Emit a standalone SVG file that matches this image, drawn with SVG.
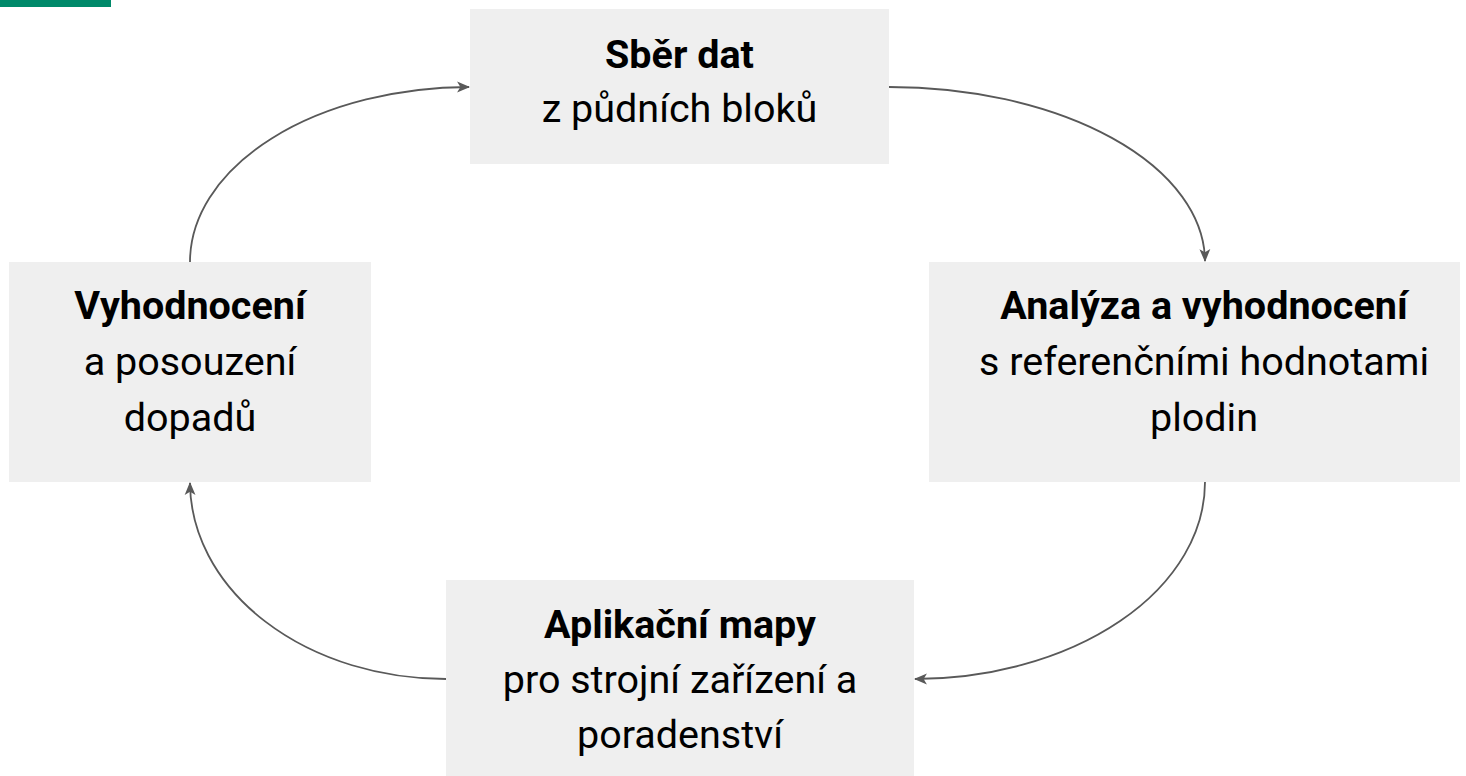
<svg xmlns="http://www.w3.org/2000/svg" width="1466" height="776" viewBox="0 0 1466 776">
  <style>
    .box { fill: #efefef; }
    .t { font-family: Roboto, "Liberation Sans", sans-serif; font-size: 39.5px; fill: #000; text-anchor: middle; }
    .b { font-weight: bold; }
    .c { fill: none; stroke: #595959; stroke-width: 1.8; marker-end: url(#ah); }
  </style>
  <defs>
    <marker id="ah" viewBox="0 0 12 12" refX="11" refY="6" markerWidth="13" markerHeight="13" markerUnits="userSpaceOnUse" orient="auto">
      <path d="M0,1 L12,6 L0,11 L3,6 z" fill="#595959"/>
    </marker>
  </defs>
  <rect x="0" y="0" width="111" height="7" fill="#00896a"/>
  <g id="connectors">
    <path class="c" d="M889,87 A316,175 0 0 1 1205,261"/>
    <path class="c" d="M1205,482 A291,197 0 0 1 915,679"/>
    <path class="c" d="M446,679 A256,197 0 0 1 190,483"/>
    <path class="c" d="M190,262 A280,175 0 0 1 469,87"/>
  </g>
  <g id="node-sber">
    <rect class="box" x="470" y="9" width="419" height="155"/>
    <text class="t b" x="679.5" y="68">Sběr dat</text>
    <text class="t" x="679.5" y="122">z půdních bloků</text>
  </g>
  <g id="node-analyza">
    <rect class="box" x="929" y="262" width="531" height="220"/>
    <text class="t b" x="1204" y="319">Analýza a vyhodnocení</text>
    <text class="t" x="1204" y="375">s referenčními hodnotami</text>
    <text class="t" x="1204" y="431">plodin</text>
  </g>
  <g id="node-aplikace">
    <rect class="box" x="446" y="580" width="468" height="196"/>
    <text class="t b" x="680" y="638">Aplikační mapy</text>
    <text class="t" x="680" y="693">pro strojní zařízení a</text>
    <text class="t" x="680" y="748">poradenství</text>
  </g>
  <g id="node-vyhodnoceni">
    <rect class="box" x="9" y="262" width="362" height="220"/>
    <text class="t b" x="190" y="319">Vyhodnocení</text>
    <text class="t" x="190" y="375">a posouzení</text>
    <text class="t" x="190" y="431">dopadů</text>
  </g>
</svg>
